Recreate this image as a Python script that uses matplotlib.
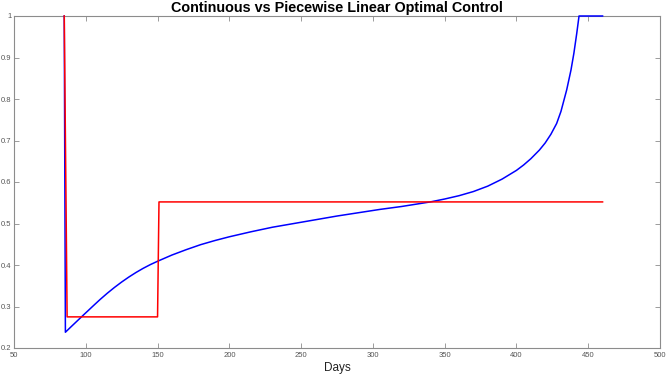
import matplotlib
matplotlib.use("Agg")
import matplotlib.pyplot as plt

# Continuous optimal control (blue)
cont_days = [85, 85.8, 90, 97, 105, 110, 115, 120, 125, 130, 135, 140, 145, 150,
             160, 170, 180, 190, 200, 215, 230, 245, 260, 275, 290, 305, 320, 340,
             350, 360, 370, 380, 390, 400, 405, 410, 416, 420, 424, 428, 431, 435,
             438, 440, 442, 443.6, 460]
cont_u = [1.0, 0.238, 0.252, 0.275, 0.301, 0.317, 0.332, 0.346, 0.359, 0.371, 0.382,
          0.392, 0.401, 0.409, 0.424, 0.437, 0.449, 0.459, 0.468, 0.480, 0.491, 0.500,
          0.509, 0.518, 0.526, 0.534, 0.541, 0.552, 0.559, 0.567, 0.577, 0.590, 0.607,
          0.628, 0.641, 0.656, 0.677, 0.694, 0.715, 0.741, 0.770, 0.822, 0.870, 0.910,
          0.958, 1.0, 1.0]

# Piecewise linear optimal control (red)
pw_days = [85, 87, 150, 151, 460]
pw_u = [1.0, 0.275, 0.275, 0.552, 0.552]

x_ticks = [50, 100, 150, 200, 250, 300, 350, 400, 450, 500]
y_ticks = [0.2, 0.3, 0.4, 0.5, 0.6, 0.7, 0.8, 0.9, 1.0]
y_tick_labels = ["0.2", "0.3", "0.4", "0.5", "0.6", "0.7", "0.8", "0.9", "1"]

plt.rcParams['font.family'] = ['Liberation Sans', 'DejaVu Sans']

fig = plt.figure(figsize=(6.66, 3.76), dpi=100)
ax = fig.add_axes([14/666, 28/376, 646/666, 332/376])

ax.plot(cont_days, cont_u, color='#0000ff', lw=1.1, clip_on=False, zorder=4)
ax.plot(pw_days, pw_u, color='#ff0000', lw=1.1, clip_on=False, zorder=4)

ax.set_xlim(50, 500)
ax.set_ylim(0.2, 1.0)
ax.set_xticks(x_ticks)
ax.set_xticklabels([str(v) for v in x_ticks])
ax.set_yticks(y_ticks)
ax.set_yticklabels(y_tick_labels)

gray = '#8c8c8c'
for s in ax.spines.values():
    s.set_color(gray)
    s.set_linewidth(0.8)
ax.tick_params(direction='in', length=3.5, width=0.6, color=gray, labelcolor='#555555',
               labelsize=5.5, top=True, right=True, pad=3)
ax.tick_params(axis='y', pad=2)

ax.set_xlabel("Days", fontsize=8.5, color='#222222', labelpad=2)
ax.set_title("Continuous vs Piecewise Linear Optimal Control", fontsize=10.4,
             fontweight='bold', pad=3)

fig.savefig("out.png", dpi=100)
